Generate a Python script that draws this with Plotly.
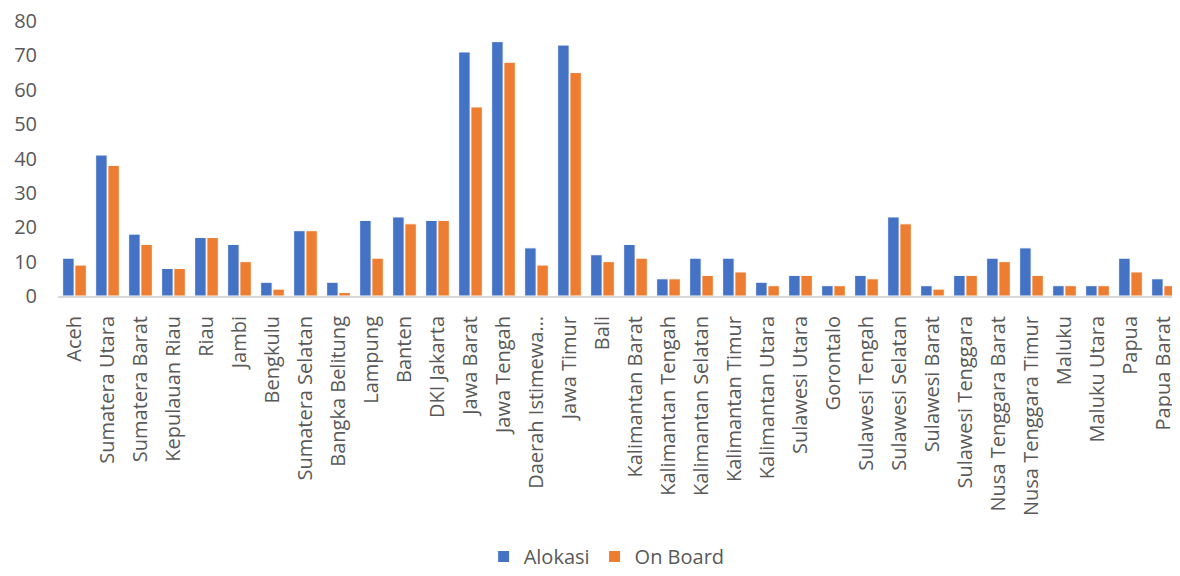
import plotly.graph_objects as go

provinsi = [
    'Aceh', 'Sumatera Utara', 'Sumatera Barat', 'Kepulauan Riau', 'Riau', 'Jambi',
    'Bengkulu', 'Sumatera Selatan', 'Bangka Belitung', 'Lampung', 'Banten',
    'DKI Jakarta', 'Jawa Barat', 'Jawa Tengah', 'Daerah Istimewa…', 'Jawa Timur',
    'Bali', 'Kalimantan Barat', 'Kalimantan Tengah', 'Kalimantan Selatan',
    'Kalimantan Timur', 'Kalimantan Utara', 'Sulawesi Utara', 'Gorontalo',
    'Sulawesi Tengah', 'Sulawesi Selatan', 'Sulawesi Barat', 'Sulawesi Tenggara',
    'Nusa Tenggara Barat', 'Nusa Tenggara Timur', 'Maluku', 'Maluku Utara',
    'Papua', 'Papua Barat',
]
alokasi = [11, 41, 18, 8, 17, 15, 4, 19, 4, 22, 23, 22, 71, 74, 14, 73, 12, 15,
           5, 11, 11, 4, 6, 3, 6, 23, 3, 6, 11, 14, 3, 3, 11, 5]
on_board = [9, 38, 15, 8, 17, 10, 2, 19, 1, 11, 21, 22, 55, 68, 9, 65, 10, 11,
            5, 6, 7, 3, 6, 3, 5, 21, 2, 6, 10, 6, 3, 3, 7, 3]
y_ticks = [0, 10, 20, 30, 40, 50, 60, 70, 80]

font_family = 'Open Sans'
text_color = '#595959'

fig = go.Figure()
fig.add_trace(go.Bar(x=provinsi, y=alokasi, name='Alokasi',
                     marker=dict(color='#4472C4', line=dict(color='white', width=1))))
fig.add_trace(go.Bar(x=provinsi, y=on_board, name='On Board',
                     marker=dict(color='#ED7D31', line=dict(color='white', width=1))))

# page body keeps an 8px margin, so the figure is sized 8px smaller
fig.update_layout(
    width=1172, height=568,
    paper_bgcolor='white', plot_bgcolor='white',
    barmode='group', bargap=0.26, bargroupgap=0.06,
    margin=dict(l=50, r=0, t=13, b=278),
    font=dict(family=font_family, color=text_color),
    legend=dict(orientation='h', x=0.489, xanchor='center', y=-0.949, yanchor='middle',
                font=dict(size=20, color=text_color), itemwidth=30),
)
fig.update_xaxes(tickangle=-90, tickfont=dict(size=20, color=text_color), automargin=False,
                 ticklabelstandoff=10,
                 showline=True, linecolor='#D9D9D9', linewidth=2, ticks='', showgrid=False)
fig.update_yaxes(range=[0, 80], tickvals=y_ticks, tickfont=dict(size=20, color=text_color),
                 automargin=False, ticklabelstandoff=20, ticklabeloverflow='allow',
                 showgrid=False, zeroline=False, showline=False, ticks='')

fig.write_html('out.html')
